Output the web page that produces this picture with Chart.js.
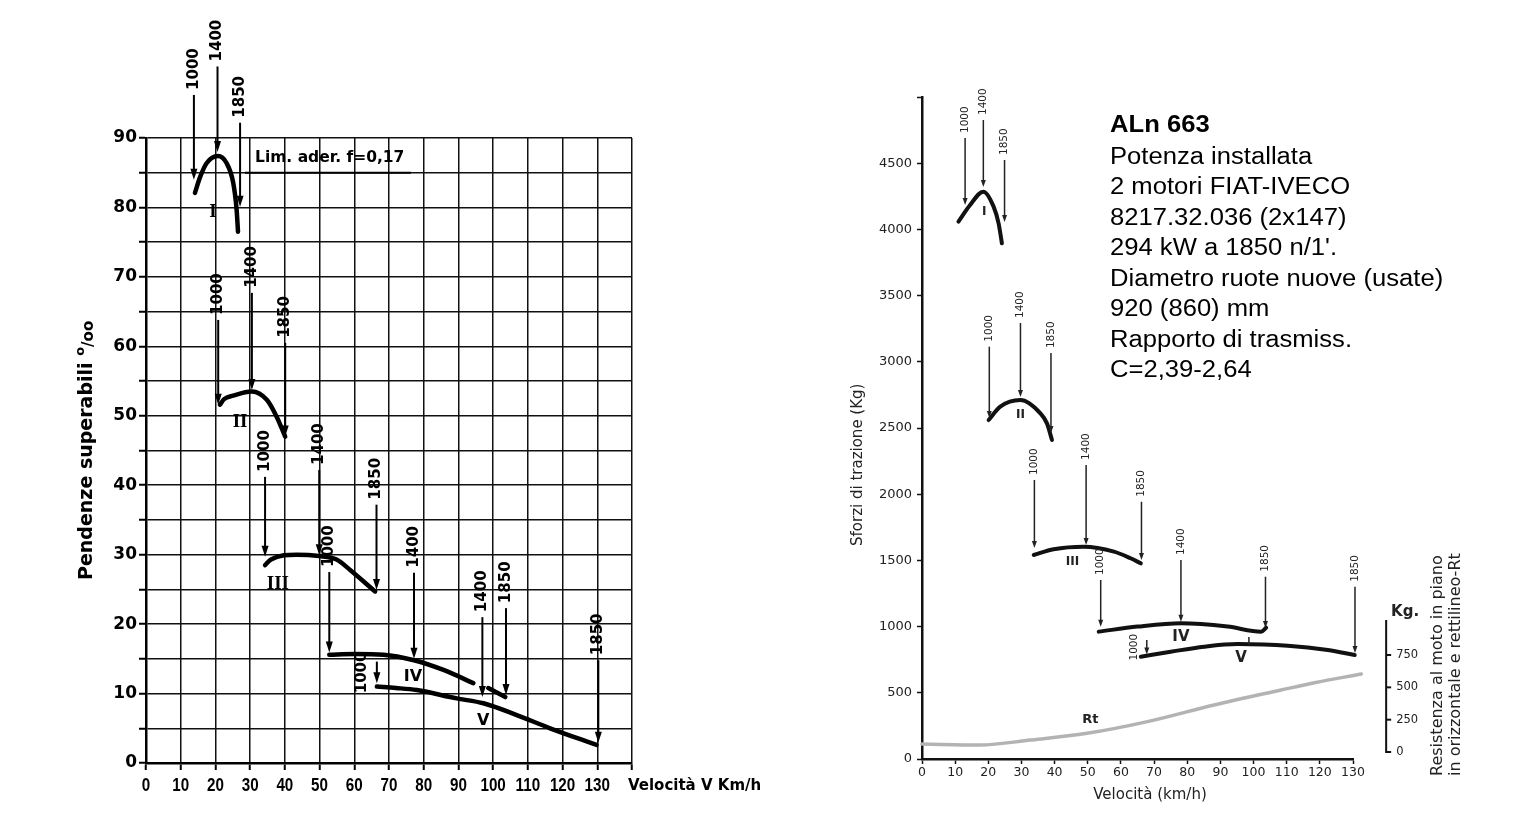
<!DOCTYPE html>
<html>
<head>
<meta charset="utf-8">
<script src="https://cdn.jsdelivr.net/npm/chart.js@4.4.1/dist/chart.umd.min.js"></script>
<style>
  html, body { margin: 0; padding: 0; background: #fff; }
  #wrap { position: relative; width: 1537px; height: 836px; overflow: hidden; background: #fff; }
  #left { position: absolute; left: 0; top: 0; width: 800px; height: 836px; }
  #right { position: absolute; left: 800px; top: 0; width: 737px; height: 836px; }
</style>
</head>
<body>
<div id="wrap">
  <div id="left"><canvas id="cLeft"></canvas></div>
  <div id="right"><canvas id="cRight"></canvas></div>
</div>
<script>
// ---- left diagram: pendenze superabili (per mille) vs velocità (km/h)
const leftSpeedTicks = [0, 10, 20, 30, 40, 50, 60, 70, 80, 90, 100, 110, 120, 130];
const leftGradeTicks = [0, 10, 20, 30, 40, 50, 60, 70, 80, 90];

const leftGearI = [[14.1, 82.1], [15.6, 84.4], [17.5, 86.4], [20.7, 87.4], [23.2, 86.4], [25.1, 83.6], [26.1, 79.7], [26.5, 76.5]];
const leftGearII = [[21.3, 51.6], [22.5, 52.4], [25.1, 52.9], [30.5, 53.5], [34.8, 52.3], [37.6, 49.9], [40.1, 47.0]];
const leftGearIII = [[34.3, 28.5], [36.0, 29.3], [43.4, 30.0], [49.9, 29.8], [54.9, 29.3], [58.8, 27.8], [66.0, 24.7]];
const leftGearIV = [[52.8, 15.6], [60.0, 15.7], [68.4, 15.6], [77.2, 14.8], [85.7, 13.4], [94.3, 11.5], [96.5, null], [98.6, 10.8], [103.5, 9.5]];
const leftGearV = [[66.5, 11.0], [72.0, 10.8], [78.0, 10.5], [89.5, 9.3], [97.2, 8.6], [106.8, 6.9], [116.4, 5.0], [129.8, 2.6]];

// [speed, from, to, rpm]
const leftArrows = [
  [13.8, 96.2, 84.0, '1000'], [20.6, 100.3, 88.0, '1400'], [27.1, 92.2, 80.1, '1850'],
  [20.8, 63.8, 51.6, '1000'], [30.5, 67.7, 53.7, '1400'], [40.1, 60.5, 47.0, '1850'],
  [34.3, 41.2, 29.7, '1000'], [49.9, 42.2, 29.9, '1400'], [66.4, 37.2, 24.9, '1850'],
  [52.8, 27.5, 15.9, '1000'], [77.2, 27.4, 15.0, '1400'], [103.7, 22.3, 9.8, '1850'],
  [66.5, 14.6, 11.5, '1000'], [96.9, 21.0, 9.5, '1400'], [130.3, 14.8, 2.9, '1850']
];
const leftGearLabels = [['I', 19.3, 79.4], ['II', 27.1, 49.1], ['III', 38.0, 25.8], ['IV', 76.9, 12.4], ['V', 97.1, 6.1]];
const limAderenza = 85;
const limAderenzaSpan = [28.5, 76.3];

// ---- right diagram: sforzi di trazione (kg) vs velocità (km/h)
const rightSpeedTicks = [0, 10, 20, 30, 40, 50, 60, 70, 80, 90, 100, 110, 120, 130];
const rightForceTicks = [0, 500, 1000, 1500, 2000, 2500, 3000, 3500, 4000, 4500];
const resistTicks = [0, 250, 500, 750];

const rightGearI = [[11.0, 4058], [14.5, 4184], [18.5, 4285], [21.6, 4172], [23.1, 4046], [24.1, 3895]];
const rightGearII = [[20.1, 2560], [23.6, 2661], [29.7, 2711], [35.7, 2611], [37.7, 2535], [39.2, 2409]];
const rightGearIII = [[33.7, 1541], [39.7, 1584], [48.8, 1603], [57.9, 1566], [62.9, 1516], [66.0, 1478]];
const rightGearIV = [[53.3, 962], [65.0, 1000], [78.1, 1025], [92.2, 1000], [102.3, 962], [103.8, 992]];
const rightGearV = [[66.0, 773], [75.0, 810], [85.1, 848], [95.2, 868], [110.3, 856], [122.4, 823], [130.5, 785]];
const rightRt = [[0, 113], [17.5, 106], [32.7, 143], [49.8, 194], [68, 282], [88.1, 408], [108.3, 521], [118.4, 576], [132.5, 642]];

const rightArrows = [
  [13.0, 4690, 4184, '1000'], [18.5, 4826, 4320, '1400'], [24.9, 4524, 4056, '1850'],
  [20.3, 3114, 2575, '1000'], [29.7, 3293, 2734, '1400'], [38.9, 3066, 2462, '1850'],
  [33.9, 2107, 1594, '1000'], [49.5, 2221, 1616, '1400'], [66.2, 1943, 1503, '1850'],
  [53.9, 1352, 999, '1000'], [78.1, 1503, 1037, '1400'], [103.6, 1377, 989, '1850'],
  [67.8, 899, 790, '1000'], [98.6, 921, 861, ''], [130.6, 1301, 800, '1850']
];
const rightGearLabels = [['I', 18.8, 4131], ['II', 29.7, 2598], ['III', 45.4, 1488], ['IV', 78.1, 921], ['V', 96.2, 763]];
const rtLabel = ['Rt', 50.8, 295];

const infoLines = [
  'Potenza installata',
  '2 motori FIAT-IVECO',
  '8217.32.036 (2x147)',
  "294 kW a 1850 n/1'.",
  'Diametro ruote nuove (usate)',
  '920 (860) mm',
  'Rapporto di trasmiss.',
  'C=2,39-2,64'
];

Chart.defaults.font.family = "'DejaVu Sans', sans-serif";

const toXY = arr => arr.map(([x, y]) => ({ x, y }));

function curve(data, color, width) {
  return {
    data: toXY(data),
    showLine: true,
    borderColor: color,
    borderWidth: width,
    pointRadius: 0,
    tension: 0.4,
    cubicInterpolationMode: 'monotone',
    borderCapStyle: 'round',
    clip: false,
  };
}

function rotatedText(ctx, text, x, y, align) {
  ctx.save();
  ctx.translate(x, y);
  ctx.rotate(-Math.PI / 2);
  ctx.textAlign = align;
  ctx.textBaseline = 'middle';
  ctx.fillText(text, 0, 0);
  ctx.restore();
}

function marksPlugin(cfg) {
  return {
    id: cfg.id,
    afterDatasetsDraw(chart) {
      const { ctx } = chart;
      const x = chart.scales.x, y = chart.scales.y;
      ctx.save();
      ctx.strokeStyle = cfg.color;
      ctx.fillStyle = cfg.color;
      cfg.arrows.forEach(([v, from, to, rpm]) => {
        const px = x.getPixelForValue(v);
        const y1 = y.getPixelForValue(from);
        const y2 = y.getPixelForValue(to);
        ctx.lineWidth = cfg.arrowWidth;
        ctx.beginPath();
        ctx.moveTo(px, y1);
        ctx.lineTo(px, rpm ? y2 - cfg.headLen * 0.7 : y2);
        ctx.stroke();
        if (!rpm) return;
        ctx.beginPath();
        ctx.moveTo(px, y2);
        ctx.lineTo(px - cfg.headW, y2 - cfg.headLen);
        ctx.lineTo(px + cfg.headW, y2 - cfg.headLen);
        ctx.closePath();
        ctx.fill();
        ctx.font = cfg.rpmFont;
        if (y2 - y1 < 30) {
          rotatedText(ctx, rpm, px - cfg.sideOffset, (y1 + y2) / 2, 'center');
        } else {
          rotatedText(ctx, rpm, px, y1 - cfg.gap, 'left');
        }
      });
      cfg.labels.forEach(([t, v, val]) => {
        ctx.font = cfg.labelFont(t);
        ctx.textAlign = 'center';
        ctx.textBaseline = 'middle';
        ctx.fillText(t, x.getPixelForValue(v), y.getPixelForValue(val));
      });
      cfg.extra(chart, ctx, x, y);
      ctx.restore();
    }
  };
}

// ---------------- left chart ----------------
new Chart(document.getElementById('cLeft'), {
  type: 'scatter',
  data: {
    datasets: [leftGearI, leftGearII, leftGearIII, leftGearIV, leftGearV].map(d => curve(d, '#000', 4.5))
  },
  options: {
    responsive: true,
    maintainAspectRatio: false,
    animation: false,
    layout: { padding: { top: 138, right: 168, left: 0, bottom: 0 } },
    plugins: { legend: { display: false }, tooltip: { enabled: false } },
    scales: {
      x: {
        type: 'linear', min: 0, max: 140,
        // labels are drawn condensed by the plugin below
        ticks: { stepSize: 10, display: false },
        grid: { color: '#111', lineWidth: 1.5, tickLength: 7, tickColor: '#000', tickWidth: 2 },
        border: { color: '#000', width: 2.5 },
        afterFit: s => { s.height = 73; }
      },
      y: {
        min: 0, max: 90,
        ticks: {
          stepSize: 5, color: '#000', padding: 2, autoSkip: false,
          font: { size: 17, weight: 'bold' },
          callback: v => leftGradeTicks.includes(v) ? String(v) : ''
        },
        grid: { color: '#111', lineWidth: 1.5, tickLength: 7, tickColor: '#000', tickWidth: 2 },
        border: { color: '#000', width: 2.5 },
        afterFit: s => { s.width = 146; }
      }
    }
  },
  plugins: [marksPlugin({
    id: 'leftMarks',
    color: '#000',
    arrows: leftArrows,
    labels: leftGearLabels,
    arrowWidth: 2,
    headLen: 11,
    headW: 3.5,
    gap: 5,
    sideOffset: 15,
    rpmFont: "bold 15px 'DejaVu Sans'",
    labelFont: t => (t === 'IV' || t === 'V') ? "bold 16px 'DejaVu Sans'" : "bold 19px 'Liberation Serif'",
    extra(chart, ctx, x, y) {
      // limite di aderenza
      ctx.lineWidth = 2;
      ctx.beginPath();
      ctx.moveTo(x.getPixelForValue(limAderenzaSpan[0]), y.getPixelForValue(limAderenza));
      ctx.lineTo(x.getPixelForValue(limAderenzaSpan[1]), y.getPixelForValue(limAderenza));
      ctx.stroke();
      ctx.font = "bold 15.5px 'DejaVu Sans'";
      ctx.textAlign = 'left';
      ctx.textBaseline = 'middle';
      ctx.fillText('Lim. ader. f=0,17', x.getPixelForValue(31.4), y.getPixelForValue(limAderenza) - 15);

      // x tick labels, condensed like the print
      ctx.font = "bold 19px 'Liberation Sans'";
      ctx.textAlign = 'center';
      leftSpeedTicks.forEach(v => {
        ctx.save();
        ctx.translate(x.getPixelForValue(v), 786);
        ctx.scale(0.8, 1);
        ctx.fillText(String(v), 0, 0);
        ctx.restore();
      });

      // x axis title
      ctx.textAlign = 'left';
      ctx.font = "bold 15px 'DejaVu Sans'";
      ctx.fillText('Velocità V Km/h', 628, 786);
      // y axis title
      ctx.save();
      ctx.translate(87, 580);
      ctx.rotate(-Math.PI / 2);
      ctx.textAlign = 'left';
      ctx.font = "bold 19px 'DejaVu Sans'";
      const t = 'Pendenze superabili ';
      ctx.fillText(t, 0, 0);
      const w = ctx.measureText(t).width;
      ctx.font = "bold 13px 'DejaVu Sans'";
      ctx.fillText('o', w, -6);
      const wo = ctx.measureText('o').width;
      ctx.font = "bold 15px 'DejaVu Sans'";
      ctx.fillText('/oo', w + wo, 2);
      ctx.restore();
    }
  })]
});

// ---------------- right chart ----------------
new Chart(document.getElementById('cRight'), {
  type: 'scatter',
  data: {
    datasets: [
      ...[rightGearI, rightGearII, rightGearIII, rightGearIV, rightGearV].map(d => curve(d, '#111', 4)),
      curve(rightRt, '#b3b3b3', 3.5)
    ]
  },
  options: {
    responsive: true,
    maintainAspectRatio: false,
    animation: false,
    layout: { padding: { top: 97, right: 184, left: 0, bottom: 0 } },
    plugins: { legend: { display: false }, tooltip: { enabled: false } },
    scales: {
      x: {
        type: 'linear', min: 0, max: 130,
        ticks: {
          stepSize: 10, color: '#222', padding: 1, maxRotation: 0, autoSkip: false,
          font: { size: 12.5 },
          callback: v => rightSpeedTicks.includes(v) ? String(v) : ''
        },
        grid: { drawOnChartArea: false, tickLength: 5, tickColor: '#111', tickWidth: 1.5 },
        border: { color: '#111', width: 2.5 },
        afterFit: s => { s.height = 77; }
      },
      y: {
        min: 0, max: 5000,
        ticks: {
          stepSize: 500, color: '#222', padding: 5, autoSkip: false,
          font: { size: 13 },
          callback: v => rightForceTicks.includes(v) ? String(v) : ''
        },
        grid: { drawOnChartArea: false, tickLength: 5, tickColor: '#111', tickWidth: 1.5 },
        border: { color: '#111', width: 2.5 },
        afterFit: s => { s.width = 122; }
      },
      y2: { display: false, min: -54, max: 5065 }
    }
  },
  plugins: [marksPlugin({
    id: 'rightMarks',
    color: '#222',
    arrows: rightArrows,
    labels: rightGearLabels,
    arrowWidth: 1.5,
    headLen: 7,
    headW: 2.5,
    gap: 5,
    sideOffset: 13,
    rpmFont: "10.5px 'DejaVu Sans'",
    labelFont: t => (t === 'IV' || t === 'V') ? "bold 15px 'DejaVu Sans'" : "bold 12px 'DejaVu Sans'",
    extra(chart, ctx, x, y) {
      const y2 = chart.scales.y2;
      // Rt label
      ctx.font = "bold 13px 'DejaVu Sans'";
      ctx.textAlign = 'center';
      ctx.textBaseline = 'middle';
      ctx.fillText(rtLabel[0], x.getPixelForValue(rtLabel[1]), y.getPixelForValue(rtLabel[2]));

      // resistance scale (Kg.)
      const ax = x.getPixelForValue(140);
      ctx.strokeStyle = '#111';
      ctx.lineWidth = 2;
      ctx.beginPath();
      ctx.moveTo(ax, y2.getPixelForValue(1020));
      ctx.lineTo(ax, y2.getPixelForValue(0));
      ctx.lineTo(ax + 5, y2.getPixelForValue(0));
      ctx.stroke();
      ctx.font = "11.5px 'DejaVu Sans'";
      ctx.textAlign = 'left';
      resistTicks.forEach(v => {
        const py = y2.getPixelForValue(v);
        if (v > 0) {
          ctx.beginPath();
          ctx.moveTo(ax, py);
          ctx.lineTo(ax + 5, py);
          ctx.stroke();
        }
        ctx.fillText(String(v), ax + 10, py);
      });
      ctx.font = "bold 15px 'DejaVu Sans'";
      ctx.textAlign = 'center';
      ctx.fillText('Kg.', ax + 19, y2.getPixelForValue(1080));

      // axis titles
      ctx.fillStyle = '#222';
      ctx.font = "15px 'DejaVu Sans'";
      ctx.textAlign = 'center';
      ctx.fillText('Velocità (km/h)', 350, 795);
      rotatedText(ctx, 'Sforzi di trazione (Kg)', 58, 546, 'left');
      ctx.font = "16px 'DejaVu Sans'";
      rotatedText(ctx, 'Resistenza al moto in piano', 638, 776, 'left');
      rotatedText(ctx, 'in orizzontale e rettilineo-Rt', 656, 776, 'left');

      // info block
      ctx.fillStyle = '#000';
      ctx.textAlign = 'left';
      ctx.textBaseline = 'alphabetic';
      ctx.save();
      ctx.translate(310, 0);
      ctx.scale(1.09, 1);
      ctx.font = "bold 23.5px 'Liberation Sans'";
      ctx.fillText('ALn 663', 0, 132);
      ctx.font = "23.5px 'Liberation Sans'";
      infoLines.forEach((line, i) => ctx.fillText(line, 0, 163.5 + i * 30.5));
      ctx.restore();
    }
  })]
});
</script>
</body>
</html>
